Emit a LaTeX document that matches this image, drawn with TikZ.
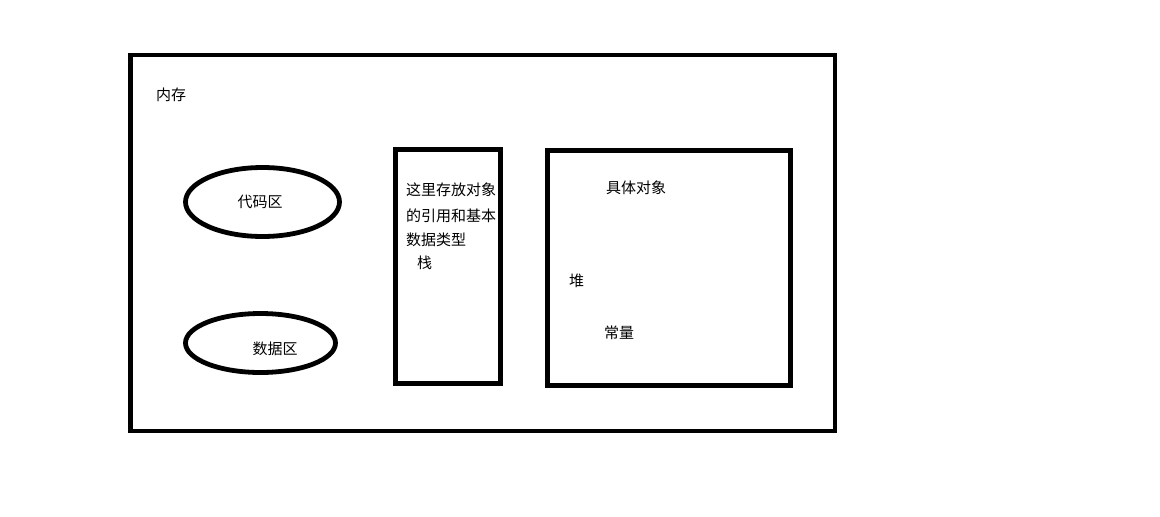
\documentclass[tikz,border=0pt]{standalone}
\usepackage{fontspec}
\newfontfamily\cjk{Noto Sans CJK SC}
\usetikzlibrary{shapes.geometric}
\begin{document}
\begin{tikzpicture}[
      x=1pt, y=-1pt, %one unit is one pixel of the sketch
      wall/.style={draw, line width=4.8pt, inner sep=0pt},
      area/.style={wall, ellipse},
      word/.style={font=\cjk\fontsize{15}{18}\selectfont, inner sep=0pt}
    ]
    \useasboundingbox (0,0) rectangle (1160,517);
    % the whole memory
    \node[wall, minimum width=704.5pt, minimum height=376pt] (mem) at (482.75,243) {};
    \node[word] (memname) at (171,95) {内存};
    % code and data areas
    \node[area, minimum width=154pt, minimum height=69pt] (code) at (262.5,202) {};
    \node[word] (codename) at (260,202) {代码区};
    \node[area, minimum width=150pt, minimum height=59pt] (data) at (260.5,343) {};
    \node[word] (dataname) at (275,349) {数据区};
    % stack
    \node[wall, minimum width=105pt, minimum height=234pt] (stack) at (448,266.5) {};
    \node[word, anchor=west] (stackA) at (406,190) {这里存放对象};
    \node[word, anchor=west] (stackB) at (406,216) {的引用和基本};
    \node[word, anchor=west] (stackC) at (406,240) {数据类型};
    \node[word, anchor=west] (stackname) at (417,263) {栈};
    % heap
    \node[wall, minimum width=243pt, minimum height=235pt] (heap) at (669,268) {};
    \node[word] (heapobj) at (636,188) {具体对象};
    \node[word] (heapname) at (576.5,281) {堆};
    \node[word] (heapconst) at (619,333) {常量};
\end{tikzpicture}
\end{document}
